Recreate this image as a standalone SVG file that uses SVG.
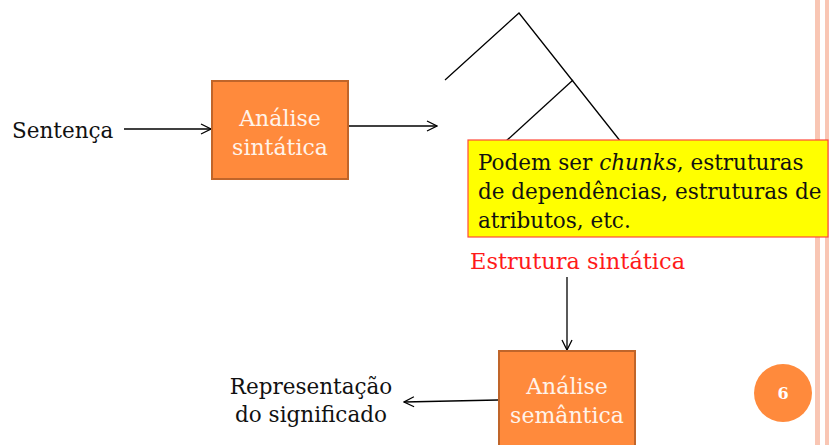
<svg xmlns="http://www.w3.org/2000/svg" width="829" height="445" viewBox="0 0 829 445">
<defs>
<style>
text{font-family:"DejaVu Serif","Liberation Serif",serif;}
.lbl{font-size:21.5px;fill:#111;}
.box{fill:#FF8A3C;stroke:#C0652A;stroke-width:2;}
.btxt{font-size:22px;fill:#FFF3EA;text-anchor:middle;}
.ln{stroke:#000;stroke-width:1.3;fill:none;}
.stripe{fill:#F9C6B4;}
</style>
<marker id="ah" viewBox="0 0 12 12" refX="11" refY="6" markerWidth="12" markerHeight="12" markerUnits="userSpaceOnUse" orient="auto">
<path d="M1,1 L11,6 L1,11" fill="none" stroke="#000" stroke-width="1.3"/>
</marker>
</defs>
<rect width="829" height="445" fill="#fff"/>
<rect class="stripe" x="815" y="0" width="5" height="445"/>
<rect class="stripe" x="825" y="0" width="4" height="445"/>
<g id="connectors">
<line class="ln" x1="124" y1="129" x2="211" y2="129" marker-end="url(#ah)"/>
<line class="ln" x1="349" y1="126" x2="437" y2="126" marker-end="url(#ah)"/>
<line class="ln" x1="567" y1="277" x2="567" y2="350" marker-end="url(#ah)"/>
<line class="ln" x1="498" y1="400" x2="404" y2="402" marker-end="url(#ah)"/>
</g>
<g id="tree">
<polyline class="ln" points="445,80 519,13 621,142"/>
<line class="ln" x1="573" y1="80" x2="505" y2="142"/>
</g>
<g id="sentenca"><text class="lbl" x="12" y="138">Sentença</text></g>
<g id="analise-sintatica">
<rect class="box" x="212" y="81" width="136" height="98"/>
<text class="btxt" x="280" y="126">Análise</text>
<text class="btxt" x="280" y="155">sintática</text>
</g>
<g id="nota">
<rect x="468" y="140" width="360" height="97" fill="#FFFF00" stroke="#FF4A3A" stroke-width="1.2"/>
<text class="lbl" x="478" y="170">Podem ser <tspan font-style="italic">chunks</tspan>, estruturas</text>
<text class="lbl" x="478" y="199">de dependências, estruturas de</text>
<text class="lbl" x="478" y="228">atributos, etc.</text>
</g>
<g id="estrutura"><text x="470" y="269" font-size="22.5" fill="#FF1A1A">Estrutura sintática</text></g>
<g id="analise-semantica">
<rect class="box" x="499" y="351" width="136" height="100"/>
<text class="btxt" x="567" y="394">Análise</text>
<text class="btxt" x="567" y="423">semântica</text>
</g>
<g id="representacao">
<text class="lbl" x="311" y="394" text-anchor="middle">Representação</text>
<text class="lbl" x="311" y="422" text-anchor="middle">do significado</text>
</g>
<g id="pagina">
<circle cx="783" cy="393" r="29" fill="#FF8A3C"/>
<text x="783" y="399" text-anchor="middle" font-size="16" font-weight="bold" fill="#fff">6</text>
</g>
</svg>
